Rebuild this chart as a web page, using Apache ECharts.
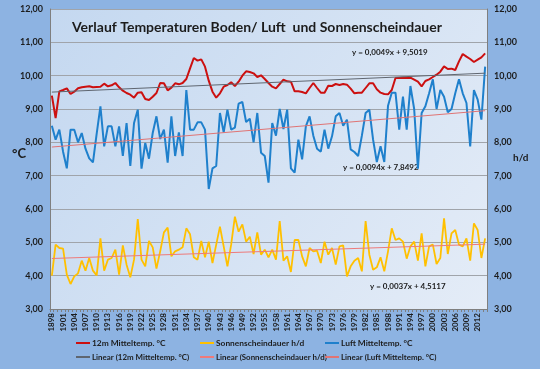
<!DOCTYPE html>
<html><head><meta charset="utf-8">
<script src="https://cdn.jsdelivr.net/npm/echarts@6/dist/echarts.min.js"></script>
<style>html,body{margin:0;padding:0;background:#8db3e2}#c{width:540px;height:369px}</style>
</head><body><div id="c"></div>
<script>
var years = [1898,1899,1900,1901,1902,1903,1904,1905,1906,1907,1908,1909,1910,1911,1912,1913,1914,1915,1916,1917,1918,1919,1920,1921,1922,1923,1924,1925,1926,1927,1928,1929,1930,1931,1932,1933,1934,1935,1936,1937,1938,1939,1940,1941,1942,1943,1944,1945,1946,1947,1948,1949,1950,1951,1952,1953,1954,1955,1956,1957,1958,1959,1960,1961,1962,1963,1964,1965,1966,1967,1968,1969,1970,1971,1972,1973,1974,1975,1976,1977,1978,1979,1980,1981,1982,1983,1984,1985,1986,1987,1988,1989,1990,1991,1992,1993,1994,1995,1996,1997,1998,1999,2000,2001,2002,2003,2004,2005,2006,2007,2008,2009,2010,2011,2012,2013,2014];

var boden12m = [9.40,8.73,9.53,9.57,9.62,9.45,9.52,9.62,9.65,9.67,9.68,9.65,9.66,9.67,9.76,9.68,9.71,9.78,9.65,9.55,9.48,9.43,9.34,9.49,9.50,9.30,9.27,9.37,9.48,9.78,9.77,9.56,9.64,9.77,9.74,9.78,9.90,10.22,10.53,10.45,10.49,10.27,9.85,9.52,9.34,9.47,9.67,9.72,9.80,9.69,9.82,10.00,10.13,10.11,10.07,9.96,10.01,9.90,9.78,9.67,9.62,9.75,9.88,9.83,9.82,9.53,9.53,9.51,9.47,9.63,9.78,9.63,9.49,9.49,9.70,9.69,9.75,9.72,9.75,9.73,9.61,9.47,9.49,9.49,9.63,9.77,9.77,9.59,9.49,9.45,9.44,9.57,9.93,9.93,9.94,9.93,9.94,9.88,9.82,9.68,9.84,9.89,9.96,10.03,10.12,10.28,10.20,10.21,10.17,10.43,10.65,10.57,10.50,10.41,10.48,10.55,10.67];

var sonne = [4.00,4.93,4.83,4.81,4.03,3.75,3.98,4.07,4.45,4.15,4.53,4.15,4.01,5.12,4.15,4.48,4.53,4.78,4.03,4.91,4.33,3.95,4.48,5.70,4.48,4.28,5.04,4.85,4.21,4.73,5.30,5.44,4.58,4.73,4.78,4.85,5.42,5.24,4.55,4.48,5.04,4.55,5.02,4.38,4.93,5.47,4.88,4.28,4.93,5.77,5.32,5.54,5.02,5.17,4.65,5.30,4.63,4.78,4.55,4.78,4.48,5.64,4.45,4.58,4.11,5.07,5.07,4.58,4.28,4.83,4.73,4.75,4.38,5.02,4.63,4.83,4.33,4.88,4.91,3.98,4.28,4.45,4.53,4.13,5.64,4.63,4.18,4.25,4.55,4.13,4.73,5.42,5.07,5.12,5.02,4.51,4.88,5.02,4.45,5.27,4.28,4.88,4.93,4.35,4.53,5.72,4.65,5.27,5.37,4.93,4.88,5.12,4.45,5.57,5.37,4.53,5.12];

var luft = [8.50,8.08,8.38,7.72,7.22,8.38,8.38,8.00,8.28,7.81,7.52,7.40,8.26,9.08,7.88,8.48,8.48,7.88,8.48,7.59,8.58,7.29,8.58,8.98,7.21,7.98,7.51,8.28,8.78,8.10,8.38,7.39,8.78,7.59,8.30,7.59,9.57,8.38,8.38,8.60,8.60,8.38,6.60,7.22,7.29,8.88,8.30,8.98,8.38,8.44,9.16,9.21,8.61,8.71,8.00,8.88,7.69,7.59,6.79,8.58,8.20,9.00,8.40,8.98,7.22,7.09,8.08,7.49,8.48,8.78,8.20,7.81,7.72,8.38,7.81,8.18,8.78,8.88,8.50,8.68,7.79,7.71,7.59,8.20,8.88,8.98,8.08,7.41,7.88,7.41,9.10,9.49,9.49,8.38,9.37,8.38,9.69,9.00,7.21,8.88,9.08,9.47,9.89,9.00,9.57,9.37,8.90,9.00,9.47,9.89,9.47,9.18,7.88,9.57,9.28,8.68,10.27];

// trendline coefficients as printed on the chart (x = 1..n)
var trendBoden = [0.0049, 9.5019];
var trendLuft = [0.0094, 7.8492];
var trendSonne = [0.0037, 4.5117];
var yTicks = [3,4,5,6,7,8,9,10,11,12];

var names = ['12m Mitteltemp. °C','Sonnenscheindauer h/d','Luft Mitteltemp. °C',
  'Linear (12m Mitteltemp. °C)','Linear (Sonnenscheindauer h/d)','Linear (Luft Mitteltemp. °C)'];

function trend(c){
  var n = years.length;
  var d = years.map(function(){ return null; });
  d[0] = c[0]*1 + c[1];
  d[n-1] = c[0]*n + c[1];
  return d;
}
function fmt(v){ return v.toFixed(2).replace('.', ','); }

var FONT = 'Lato';
var txt = '#1c1c1c';
var chart = echarts.init(document.getElementById('c'));

var legendPos = [[76,339],[200,339],[325,339],[76,353],[200,353],[325,353]];
var legends = names.map(function(n,i){
  return {data:[n], left:legendPos[i][0], top:legendPos[i][1], icon:'rect', itemWidth:14, itemHeight:2,
    itemGap:2, textStyle:{fontFamily:FONT, fontSize:(i<3?8.4:7.9), fontWeight:'bold', color:txt, padding:[0,0,0,-3]}, padding:0};
});

var yAxisCommon = {
  type:'value', min:yTicks[0], max:yTicks[yTicks.length-1], interval:1,
  axisLine:{show:true, lineStyle:{color:'#7f7f7f', width:1}},
  axisTick:{show:false},
  axisLabel:{formatter:fmt, fontFamily:FONT, fontSize:9, fontWeight:'bold', color:txt, margin:7},
  splitLine:{show:true, lineStyle:{color:'#a0a4aa', width:1}}
};

chart.setOption({
  backgroundColor:'#8db3e2',
  animation:false,
  title:{text:'Verlauf Temperaturen Boden/ Luft  und Sonnenscheindauer', left:67, top:15,
    textStyle:{fontFamily:FONT, fontSize:14, fontWeight:'bold', color:'#1c1c1c'}},
  legend: legends,
  grid:{left:50, right:53, top:9, bottom:60, show:true, borderWidth:0,
    backgroundColor:{type:'linear', x:0, y:0, x2:1, y2:1, colorStops:[{offset:0,color:'#c4d8f0'},{offset:1,color:'#e4ecf7'}]}},
  xAxis:{type:'category', data:years, boundaryGap:true,
    axisLine:{lineStyle:{color:'#7f7f7f'}},
    axisTick:{show:true, interval:0, length:3, lineStyle:{color:'#7f7f7f'}},
    axisLabel:{interval:2, rotate:90, fontFamily:FONT, fontSize:8, fontWeight:'bold', color:txt, margin:4}},
  yAxis:[Object.assign({}, yAxisCommon, {position:'left'}),
         Object.assign({}, yAxisCommon, {position:'right', splitLine:{show:false}})],
  graphic:[
    {type:'text', left:12, top:147, style:{text:'°C', font:'bold 13px Lato', fill:txt}},
    {type:'text', left:513, top:153, style:{text:'h/d', font:'bold 10px Lato', fill:txt}},
    {type:'text', left:352, top:48, style:{text:'y = 0,0049x + 9,5019', font:'bold 8px Lato', fill:txt}},
    {type:'text', left:343, top:163, style:{text:'y = 0,0094x + 7,8492', font:'bold 8px Lato', fill:txt}},
    {type:'text', left:370, top:282, style:{text:'y = 0,0037x + 4,5117', font:'bold 8px Lato', fill:txt}}
  ],
  series:[
    {name:names[0], type:'line', data:boden12m, showSymbol:false, lineStyle:{color:'#cc1010', width:2}, itemStyle:{color:'#cc1010'}, z:3},
    {name:names[1], type:'line', data:sonne, yAxisIndex:1, showSymbol:false, lineStyle:{color:'#ffc000', width:1.8}, itemStyle:{color:'#ffc000'}, z:3},
    {name:names[2], type:'line', data:luft, showSymbol:false, lineStyle:{color:'#1f80cc', width:2}, itemStyle:{color:'#1f80cc'}, z:3},
    {name:names[3], type:'line', data:trend(trendBoden), connectNulls:true, showSymbol:false, lineStyle:{color:'#5f6670', width:1}, itemStyle:{color:'#5f6670'}, z:4},
    {name:names[4], type:'line', data:trend(trendSonne), connectNulls:true, yAxisIndex:1, showSymbol:false, lineStyle:{color:'#ee7a7a', width:1}, itemStyle:{color:'#ee7a7a'}, z:4},
    {name:names[5], type:'line', data:trend(trendLuft), connectNulls:true, showSymbol:false, lineStyle:{color:'#e07474', width:1}, itemStyle:{color:'#e07474'}, z:4}
  ]
});
</script></body></html>
